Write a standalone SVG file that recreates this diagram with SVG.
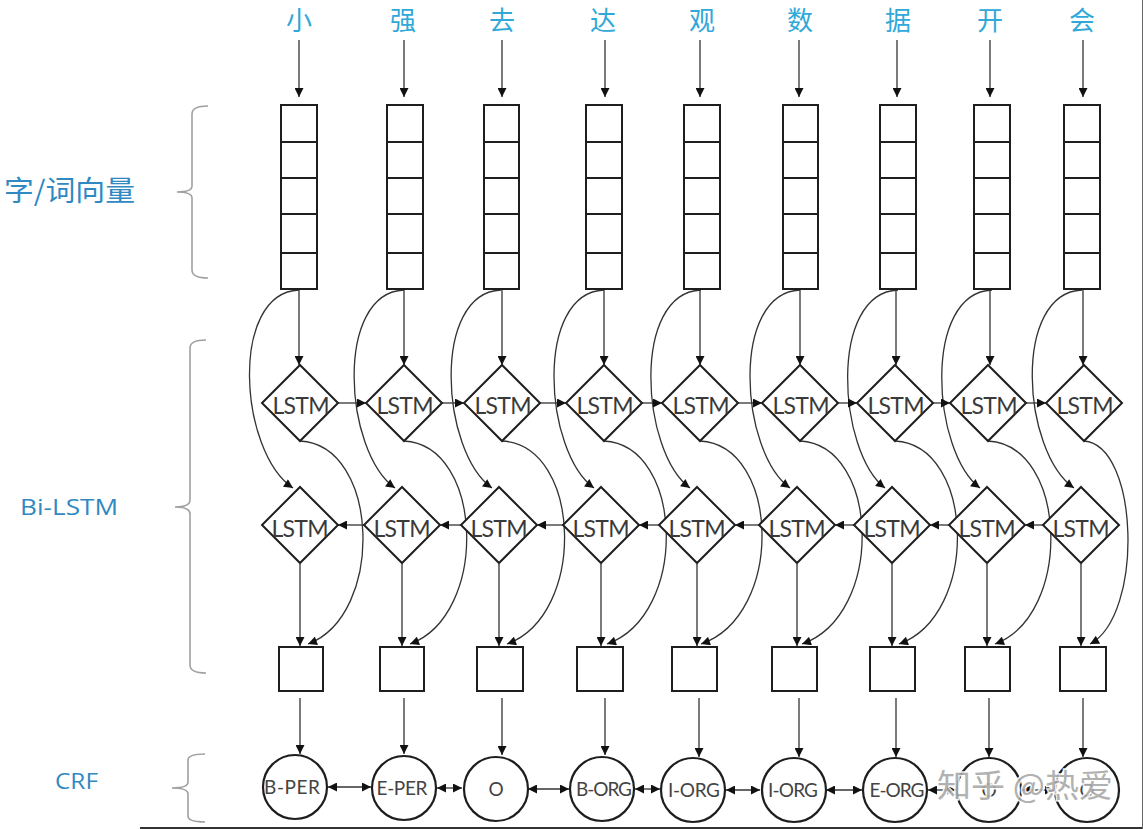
<svg xmlns="http://www.w3.org/2000/svg" width="1143" height="829" viewBox="0 0 1143 829">
<defs>
<style>
.ch{font-family:"Noto Sans CJK SC",sans-serif;font-size:26px;fill:#30a8d8;text-anchor:middle}
.side{font-family:"Noto Sans CJK SC",sans-serif;fill:#3089c2}
.sidel{font-family:"Open Sans","Liberation Sans",sans-serif;font-size:22px;fill:#3089c2}
.box{fill:#fff;stroke:#1e1e1e;stroke-width:2}
.cell{stroke:#1e1e1e;stroke-width:2}
.dia{fill:#fff;stroke:#1e1e1e;stroke-width:2;stroke-linejoin:miter}
.lt{font-family:Lato,"Liberation Sans",sans-serif;font-size:23px;fill:#3a3a3a;text-anchor:middle}
.cl{font-family:Lato,"Liberation Sans",sans-serif;font-size:19px;fill:#444;text-anchor:middle}
.crc{fill:#fff;stroke:#1e1e1e;stroke-width:2.2}
.c{stroke:#333;stroke-width:1.3;fill:none}
.brace{stroke:#a0a0a0;stroke-width:1.6;fill:none}
</style>
<marker id="ah" viewBox="0 0 10 10" refX="10" refY="5" markerWidth="10" markerHeight="9" markerUnits="userSpaceOnUse" orient="auto-start-reverse">
<path d="M0,0 L10,5 L0,10 z" fill="#111"/>
</marker>
</defs>
<rect width="1143" height="829" fill="#fff"/>

<g id="side-labels">
<text class="side" x="4" y="201" font-size="28" textLength="131" lengthAdjust="spacingAndGlyphs">字/词向量</text>
<text class="sidel" x="20" y="515" textLength="98" lengthAdjust="spacingAndGlyphs">Bi-LSTM</text>
<text class="sidel" x="55" y="789" textLength="43" lengthAdjust="spacingAndGlyphs">CRF</text>
<path class="brace" d="M208,106 Q192,106 192,114 L192,186 Q192,192 177,192 Q192,192 192,198 L192,270 Q192,278 208,278"/>
<path class="brace" d="M206,340 Q190,340 190,348 L190,500 Q190,507 175,507 Q190,507 190,514 L190,665 Q190,673 206,673"/>
<path class="brace" d="M205,754 Q188,754 188,760 L188,782 Q188,788 172,788 Q188,788 188,794 L188,816 Q188,822 205,822"/>
</g>

<g id="chars">
<text class="ch" x="299" y="30">小</text>
<text class="ch" x="403" y="30">强</text>
<text class="ch" x="502" y="30">去</text>
<text class="ch" x="603" y="30">达</text>
<text class="ch" x="702" y="30">观</text>
<text class="ch" x="800" y="30">数</text>
<text class="ch" x="898" y="30">据</text>
<text class="ch" x="990" y="30">开</text>
<text class="ch" x="1082" y="30">会</text>
</g>

<g id="connectors">
<line class="c" x1="299" y1="40" x2="299" y2="97" marker-end="url(#ah)"/>
<line class="c" x1="404" y1="40" x2="404" y2="97" marker-end="url(#ah)"/>
<line class="c" x1="502" y1="40" x2="502" y2="97" marker-end="url(#ah)"/>
<line class="c" x1="605" y1="40" x2="605" y2="97" marker-end="url(#ah)"/>
<line class="c" x1="700" y1="40" x2="700" y2="97" marker-end="url(#ah)"/>
<line class="c" x1="799" y1="40" x2="799" y2="97" marker-end="url(#ah)"/>
<line class="c" x1="897" y1="40" x2="897" y2="97" marker-end="url(#ah)"/>
<line class="c" x1="990" y1="40" x2="990" y2="97" marker-end="url(#ah)"/>
<line class="c" x1="1083" y1="40" x2="1083" y2="97" marker-end="url(#ah)"/>
<line class="c" x1="299" y1="290" x2="299" y2="365" marker-end="url(#ah)"/>
<line class="c" x1="404" y1="290" x2="404" y2="365" marker-end="url(#ah)"/>
<line class="c" x1="502" y1="290" x2="502" y2="365" marker-end="url(#ah)"/>
<line class="c" x1="604" y1="290" x2="604" y2="365" marker-end="url(#ah)"/>
<line class="c" x1="700" y1="290" x2="700" y2="365" marker-end="url(#ah)"/>
<line class="c" x1="800" y1="290" x2="800" y2="365" marker-end="url(#ah)"/>
<line class="c" x1="896" y1="290" x2="896" y2="365" marker-end="url(#ah)"/>
<line class="c" x1="990" y1="290" x2="990" y2="365" marker-end="url(#ah)"/>
<line class="c" x1="1083" y1="290" x2="1083" y2="365" marker-end="url(#ah)"/>
<path class="c" d="M299,290 C229,293 239,452 293,488" marker-end="url(#ah)"/>
<path class="c" d="M404,290 C334,293 344,452 395,488" marker-end="url(#ah)"/>
<path class="c" d="M501,290 C431,293 441,452 492,488" marker-end="url(#ah)"/>
<path class="c" d="M604,290 C534,293 544,452 594,488" marker-end="url(#ah)"/>
<path class="c" d="M701,290 C631,293 641,452 690,488" marker-end="url(#ah)"/>
<path class="c" d="M800,290 C730,293 740,452 790,488" marker-end="url(#ah)"/>
<path class="c" d="M898,290 C828,293 838,452 885,488" marker-end="url(#ah)"/>
<path class="c" d="M992,290 C922,293 932,452 980,488" marker-end="url(#ah)"/>
<path class="c" d="M1082,290 C1012,293 1022,452 1074,488" marker-end="url(#ah)"/>
<path class="c" d="M300,441 C380,445 385,615 308,644" marker-end="url(#ah)"/>
<path class="c" d="M404,441 C484,445 489,615 410,644" marker-end="url(#ah)"/>
<path class="c" d="M502,441 C582,445 587,615 507,644" marker-end="url(#ah)"/>
<path class="c" d="M604,441 C684,445 689,615 607,644" marker-end="url(#ah)"/>
<path class="c" d="M700,441 C780,445 785,615 701,644" marker-end="url(#ah)"/>
<path class="c" d="M800,441 C880,445 885,615 802,644" marker-end="url(#ah)"/>
<path class="c" d="M895,441 C975,445 980,615 899,644" marker-end="url(#ah)"/>
<path class="c" d="M988,441 C1068,445 1073,615 995,644" marker-end="url(#ah)"/>
<path class="c" d="M1084,441 C1139,445 1144,615 1090,644" marker-end="url(#ah)"/>
<line class="c" x1="338" y1="403" x2="366" y2="403" marker-end="url(#ah)"/>
<line class="c" x1="442" y1="403" x2="464" y2="403" marker-end="url(#ah)"/>
<line class="c" x1="540" y1="403" x2="566" y2="403" marker-end="url(#ah)"/>
<line class="c" x1="642" y1="403" x2="662" y2="403" marker-end="url(#ah)"/>
<line class="c" x1="738" y1="403" x2="762" y2="403" marker-end="url(#ah)"/>
<line class="c" x1="838" y1="403" x2="857" y2="403" marker-end="url(#ah)"/>
<line class="c" x1="933" y1="403" x2="950" y2="403" marker-end="url(#ah)"/>
<line class="c" x1="1026" y1="403" x2="1046" y2="403" marker-end="url(#ah)"/>
<line class="c" x1="364" y1="525" x2="338" y2="525" marker-end="url(#ah)"/>
<line class="c" x1="461" y1="525" x2="440" y2="525" marker-end="url(#ah)"/>
<line class="c" x1="563" y1="525" x2="537" y2="525" marker-end="url(#ah)"/>
<line class="c" x1="659" y1="525" x2="639" y2="525" marker-end="url(#ah)"/>
<line class="c" x1="759" y1="525" x2="735" y2="525" marker-end="url(#ah)"/>
<line class="c" x1="854" y1="525" x2="835" y2="525" marker-end="url(#ah)"/>
<line class="c" x1="949" y1="525" x2="930" y2="525" marker-end="url(#ah)"/>
<line class="c" x1="1043" y1="525" x2="1025" y2="525" marker-end="url(#ah)"/>
<line class="c" x1="300" y1="564" x2="300" y2="646" marker-end="url(#ah)"/>
<line class="c" x1="402" y1="564" x2="402" y2="646" marker-end="url(#ah)"/>
<line class="c" x1="499" y1="564" x2="499" y2="646" marker-end="url(#ah)"/>
<line class="c" x1="601" y1="564" x2="601" y2="646" marker-end="url(#ah)"/>
<line class="c" x1="697" y1="564" x2="697" y2="646" marker-end="url(#ah)"/>
<line class="c" x1="797" y1="564" x2="797" y2="646" marker-end="url(#ah)"/>
<line class="c" x1="892" y1="564" x2="892" y2="646" marker-end="url(#ah)"/>
<line class="c" x1="987" y1="564" x2="987" y2="646" marker-end="url(#ah)"/>
<line class="c" x1="1081" y1="564" x2="1081" y2="646" marker-end="url(#ah)"/>
<line class="c" x1="300" y1="698" x2="300" y2="754" marker-end="url(#ah)"/>
<line class="c" x1="404" y1="698" x2="404" y2="754" marker-end="url(#ah)"/>
<line class="c" x1="502" y1="698" x2="502" y2="755" marker-end="url(#ah)"/>
<line class="c" x1="605" y1="698" x2="605" y2="755" marker-end="url(#ah)"/>
<line class="c" x1="699" y1="698" x2="699" y2="757" marker-end="url(#ah)"/>
<line class="c" x1="799" y1="698" x2="799" y2="757" marker-end="url(#ah)"/>
<line class="c" x1="896" y1="698" x2="896" y2="757" marker-end="url(#ah)"/>
<line class="c" x1="989" y1="698" x2="989" y2="757" marker-end="url(#ah)"/>
<line class="c" x1="1083" y1="698" x2="1083" y2="757" marker-end="url(#ah)"/>
<line class="c" x1="328" y1="787" x2="371" y2="787" marker-start="url(#ah)" marker-end="url(#ah)"/>
<line class="c" x1="437" y1="788" x2="462" y2="788" marker-start="url(#ah)" marker-end="url(#ah)"/>
<line class="c" x1="528" y1="789" x2="569" y2="789" marker-start="url(#ah)" marker-end="url(#ah)"/>
<line class="c" x1="635" y1="789" x2="660" y2="789" marker-start="url(#ah)" marker-end="url(#ah)"/>
<line class="c" x1="726" y1="790" x2="760" y2="790" marker-start="url(#ah)" marker-end="url(#ah)"/>
<line class="c" x1="826" y1="790" x2="862" y2="790" marker-start="url(#ah)" marker-end="url(#ah)"/>
<line class="c" x1="928" y1="790" x2="956" y2="790" marker-start="url(#ah)" marker-end="url(#ah)"/>
<line class="c" x1="1022" y1="790" x2="1054" y2="790" marker-start="url(#ah)" marker-end="url(#ah)"/>
</g>

<g id="col1">
<rect class="box" x="281" y="105" width="36" height="184"/>
<path class="cell" d="M281,142H317M281,178H317M281,214H317M281,253H317"/>
<polygon class="dia" points="300,365 338,403 300,441 262,403"/><text class="lt" x="301" y="414" textLength="57">LSTM</text>
<polygon class="dia" points="300,487 338,525 300,563 262,525"/><text class="lt" x="300" y="537" textLength="57">LSTM</text>
<rect class="box" x="279" y="647" width="44" height="44"/>
<circle class="crc" cx="295" cy="787" r="32"/><text class="cl" x="292" y="794" textLength="56">B-PER</text>
</g>
<g id="col2">
<rect class="box" x="387" y="105" width="36" height="184"/>
<path class="cell" d="M387,142H423M387,178H423M387,214H423M387,253H423"/>
<polygon class="dia" points="404,365 442,403 404,441 366,403"/><text class="lt" x="405" y="414" textLength="57">LSTM</text>
<polygon class="dia" points="402,487 440,525 402,563 364,525"/><text class="lt" x="402" y="537" textLength="57">LSTM</text>
<rect class="box" x="380" y="647" width="44" height="44"/>
<circle class="crc" cx="404" cy="788" r="32"/><text class="cl" x="402" y="795" textLength="51">E-PER</text>
</g>
<g id="col3">
<rect class="box" x="484" y="105" width="35" height="184"/>
<path class="cell" d="M484,142H519M484,178H519M484,214H519M484,253H519"/>
<polygon class="dia" points="502,365 540,403 502,441 464,403"/><text class="lt" x="503" y="414" textLength="57">LSTM</text>
<polygon class="dia" points="499,487 537,525 499,563 461,525"/><text class="lt" x="499" y="537" textLength="57">LSTM</text>
<rect class="box" x="477" y="647" width="46" height="44"/>
<circle class="crc" cx="496" cy="789" r="32"/><text class="cl" x="496" y="796" font-size="21">O</text>
</g>
<g id="col4">
<rect class="box" x="586" y="105" width="36" height="184"/>
<path class="cell" d="M586,142H622M586,178H622M586,214H622M586,253H622"/>
<polygon class="dia" points="604,365 642,403 604,441 566,403"/><text class="lt" x="605" y="414" textLength="57">LSTM</text>
<polygon class="dia" points="601,487 639,525 601,563 563,525"/><text class="lt" x="601" y="537" textLength="57">LSTM</text>
<rect class="box" x="577" y="647" width="46" height="44"/>
<circle class="crc" cx="602" cy="789" r="32"/><text class="cl" x="604" y="796" textLength="56">B-ORG</text>
</g>
<g id="col5">
<rect class="box" x="684" y="105" width="36" height="184"/>
<path class="cell" d="M684,142H720M684,178H720M684,214H720M684,253H720"/>
<polygon class="dia" points="700,365 738,403 700,441 662,403"/><text class="lt" x="701" y="414" textLength="57">LSTM</text>
<polygon class="dia" points="697,487 735,525 697,563 659,525"/><text class="lt" x="697" y="537" textLength="57">LSTM</text>
<rect class="box" x="672" y="647" width="45" height="44"/>
<circle class="crc" cx="693" cy="790" r="32"/><text class="cl" x="694" y="797" textLength="52">I-ORG</text>
</g>
<g id="col6">
<rect class="box" x="783" y="105" width="35" height="184"/>
<path class="cell" d="M783,142H818M783,178H818M783,214H818M783,253H818"/>
<polygon class="dia" points="800,365 838,403 800,441 762,403"/><text class="lt" x="801" y="414" textLength="57">LSTM</text>
<polygon class="dia" points="797,487 835,525 797,563 759,525"/><text class="lt" x="797" y="537" textLength="57">LSTM</text>
<rect class="box" x="772" y="647" width="45" height="44"/>
<circle class="crc" cx="794" cy="790" r="32"/><text class="cl" x="793" y="797" textLength="50">I-ORG</text>
</g>
<g id="col7">
<rect class="box" x="880" y="105" width="36" height="184"/>
<path class="cell" d="M880,142H916M880,178H916M880,214H916M880,253H916"/>
<polygon class="dia" points="895,365 933,403 895,441 857,403"/><text class="lt" x="896" y="414" textLength="57">LSTM</text>
<polygon class="dia" points="892,487 930,525 892,563 854,525"/><text class="lt" x="892" y="537" textLength="57">LSTM</text>
<rect class="box" x="870" y="647" width="45" height="44"/>
<circle class="crc" cx="895" cy="790" r="32"/><text class="cl" x="897" y="797" textLength="55">E-ORG</text>
</g>
<g id="col8">
<rect class="box" x="974" y="105" width="36" height="184"/>
<path class="cell" d="M974,142H1010M974,178H1010M974,214H1010M974,253H1010"/>
<polygon class="dia" points="988,365 1026,403 988,441 950,403"/><text class="lt" x="989" y="414" textLength="57">LSTM</text>
<polygon class="dia" points="987,487 1025,525 987,563 949,525"/><text class="lt" x="987" y="537" textLength="57">LSTM</text>
<rect class="box" x="965" y="647" width="45" height="44"/>
<circle class="crc" cx="989" cy="790" r="32"/><text class="cl" x="989" y="797" font-size="21">O</text>
</g>
<g id="col9">
<rect class="box" x="1064" y="105" width="36" height="184"/>
<path class="cell" d="M1064,142H1100M1064,178H1100M1064,214H1100M1064,253H1100"/>
<polygon class="dia" points="1084,365 1122,403 1084,441 1046,403"/><text class="lt" x="1085" y="414" textLength="57">LSTM</text>
<polygon class="dia" points="1081,487 1119,525 1081,563 1043,525"/><text class="lt" x="1081" y="537" textLength="57">LSTM</text>
<rect class="box" x="1060" y="647" width="46" height="44"/>
<circle class="crc" cx="1087" cy="790" r="32"/><text class="cl" x="1087" y="797" font-size="21">O</text>
</g>

<g id="watermark">
<text x="937" y="797" font-family="'Noto Sans CJK SC',sans-serif" font-size="32" fill="#a9a9a9" stroke="#ffffff" stroke-width="3" paint-order="stroke" opacity="0.9" textLength="176" lengthAdjust="spacingAndGlyphs">知乎 @热爱</text>
</g>

<g id="frame">
<line x1="140" y1="828" x2="1143" y2="828" stroke="#333" stroke-width="2"/>
<line x1="1142.5" y1="0" x2="1142.5" y2="829" stroke="#666" stroke-width="1"/>
</g>
</svg>
